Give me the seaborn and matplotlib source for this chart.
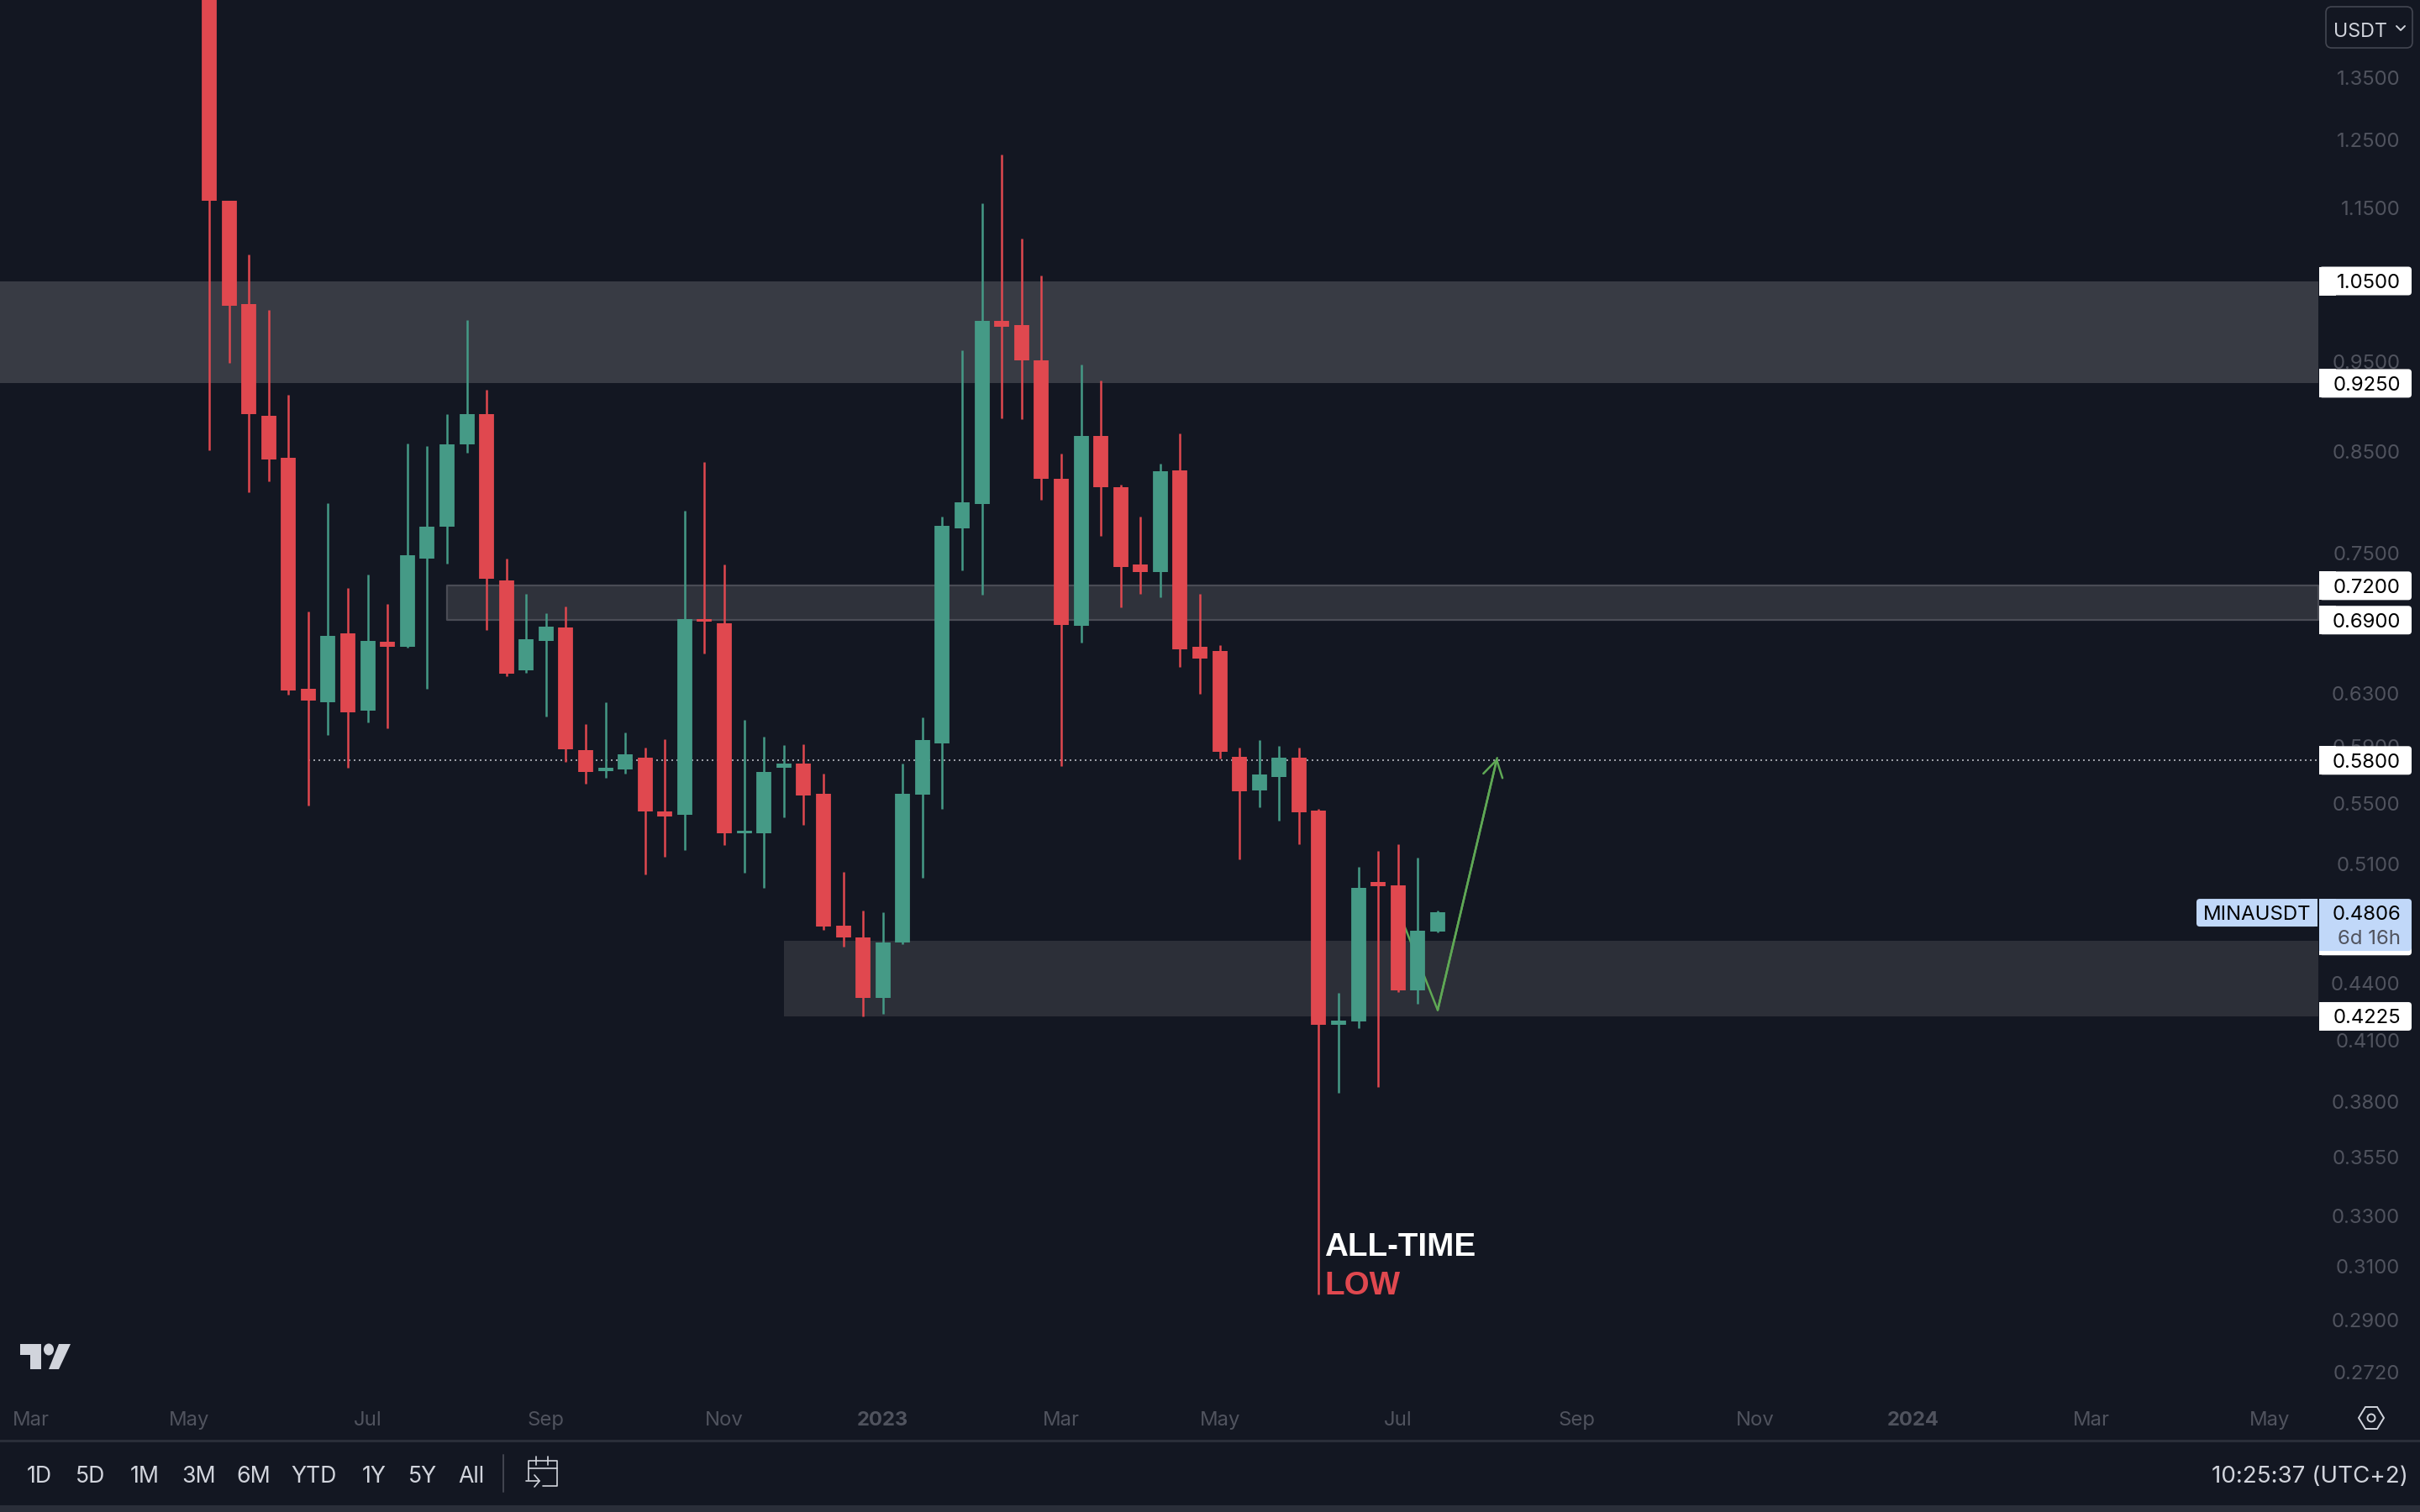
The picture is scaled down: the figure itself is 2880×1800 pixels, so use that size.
import pandas as pd
import matplotlib.pyplot as plt
from matplotlib.patches import Rectangle, FancyBboxPatch, Polygon, Ellipse, Circle
import seaborn as sns

# Weekly candles
first_week = "2022-05-09"
opens = [1.62, 1.1594, 1.0209, 0.8888, 0.8432, 0.6335, 0.6231, 0.6785, 0.6167, 0.6721,
         0.6678, 0.7445, 0.7743, 0.8577, 0.8901, 0.7250, 0.6483, 0.6726, 0.6838, 0.5877,
         0.5721, 0.5738, 0.5822, 0.5443, 0.5420, 0.6906, 0.6872, 0.5302, 0.5298, 0.5746,
         0.5780, 0.5566, 0.4726, 0.4659, 0.4324, 0.4632, 0.5560, 0.5921, 0.7729, 0.7971,
         0.9991, 0.9943, 0.9515, 0.8217, 0.6855, 0.8669, 0.8133, 0.7394, 0.7326, 0.8302,
         0.6675, 0.6641, 0.5824, 0.5589, 0.5685, 0.5820, 0.5449, 0.4183, 0.4198, 0.4989,
         0.4967, 0.4365, 0.4692]
closes = [1.1594, 1.0186, 0.8901, 0.8414, 0.6326, 0.6249, 0.6770, 0.6158, 0.6726, 0.6678,
          0.7479, 0.7743, 0.8577, 0.8907, 0.7266, 0.6459, 0.6736, 0.6848, 0.5881, 0.5717,
          0.5746, 0.5847, 0.5443, 0.5412, 0.6906, 0.6887, 0.5298, 0.5318, 0.5717, 0.5776,
          0.5553, 0.4722, 0.4659, 0.4324, 0.4628, 0.5568, 0.5950, 0.7757, 0.7982, 0.9991,
          0.9920, 0.9522, 0.8223, 0.6860, 0.8663, 0.8133, 0.7373, 0.7321, 0.8296, 0.6656,
          0.6578, 0.5862, 0.5580, 0.5698, 0.5820, 0.5441, 0.4183, 0.4205, 0.4956, 0.4964,
          0.4365, 0.4696, 0.4806]
highs = [1.75, 1.1594, 1.0852, 1.0133, 0.9116, 0.6973, 0.7974, 0.7177, 0.7303, 0.7041,
         0.8583, 0.8559, 0.8901, 1.0005, 0.9181, 0.7445, 0.7125, 0.6958, 0.7020, 0.6068,
         0.6235, 0.6005, 0.5893, 0.5956, 0.7901, 0.8390, 0.7392, 0.6100, 0.5973, 0.5914,
         0.5918, 0.5704, 0.5051, 0.4818, 0.4807, 0.5778, 0.6120, 0.7847, 0.9635, 1.1565,
         1.2285, 1.1066, 1.0566, 0.8477, 0.9466, 0.9284, 0.8163, 0.7842, 0.8375, 0.8696,
         0.7127, 0.6690, 0.5891, 0.5950, 0.5908, 0.5891, 0.5461, 0.4349, 0.5085, 0.5187,
         0.5230, 0.5141, 0.4818]
lows = [0.8511, 0.9491, 0.8087, 0.8196, 0.6294, 0.5486, 0.5987, 0.5750, 0.6077, 0.6036,
        0.6668, 0.6339, 0.7402, 0.8493, 0.6819, 0.6440, 0.6464, 0.6127, 0.5792, 0.5633,
        0.5679, 0.5708, 0.5034, 0.5150, 0.5189, 0.6624, 0.5224, 0.5045, 0.4951, 0.5404,
        0.5357, 0.4702, 0.4605, 0.4227, 0.4240, 0.4618, 0.5014, 0.5461, 0.7337, 0.7117,
        0.8859, 0.8846, 0.8011, 0.5757, 0.6709, 0.7656, 0.7012, 0.7127, 0.7101, 0.6510,
        0.6301, 0.5811, 0.5133, 0.5472, 0.5382, 0.5230, 0.2995, 0.3843, 0.4162, 0.3871,
        0.4356, 0.4293, 0.4686]

# Support / resistance zones: price range and the week they start on
zone_high = [1.05, 0.72, 0.4638]
zone_low = [0.925, 0.69, 0.4225]
zone_start = [None, "2022-08-01", "2022-11-28"]
zone_fill = ["#383b44", "#2f323b", "#2c2f38"]

level_price = 0.58
level_start = "2022-06-13"

# Projection drawn on the chart
path_dates = ["2023-07-03", "2023-07-17", "2023-08-07"]
path_prices = [0.4820, 0.4258, 0.5818]

tick_prices = [1.35, 1.25, 1.15, 0.95, 0.85, 0.75, 0.63, 0.59, 0.55, 0.51, 0.44,
               0.41, 0.38, 0.355, 0.33, 0.31, 0.29, 0.272]
tag_prices = [1.05, 0.925, 0.72, 0.69, 0.58, 0.4225]
hidden_tag = 0.4638
last_price = 0.4806

month_dates = ["2022-03-07", "2022-05-02", "2022-07-04", "2022-09-05", "2022-11-07", "2023-01-02",
               "2023-03-06", "2023-05-01", "2023-07-03", "2023-09-04", "2023-11-06", "2024-01-01",
               "2024-03-04", "2024-05-06"]
month_labels = ["Mar", "May", "Jul", "Sep", "Nov", "2023", "Mar", "May", "Jul", "Sep", "Nov", "2024", "Mar", "May"]

range_labels = ["1D", "5D", "1M", "3M", "6M", "YTD", "1Y", "5Y", "All"]
range_x = [47, 108, 172, 237, 302, 374, 445, 503, 561]

BG = "#131722"
RED = "#e0484f"
GREEN = "#459a86"
FAINT = "#50535e"
LIGHT = "#d1d4dc"

sns.set_theme(style="dark", rc={"axes.facecolor": BG, "figure.facecolor": BG, "savefig.facecolor": BG})
plt.rcParams["font.family"] = ["Inter", "DejaVu Sans"]

fig = plt.figure(figsize=(14.4, 9), dpi=200)
ax = fig.add_axes([0, 1 - 1660 / 1800, 2759 / 2880, 1660 / 1800])
ax.set_yscale("log")

weeks = pd.date_range(first_week, periods=len(opens), freq="7D")
left = weeks[0] - pd.Timedelta(days=73.9)
right = weeks[0] + pd.Timedelta(days=745.1)

candles = pd.DataFrame({"week": weeks, "open": opens, "close": closes, "high": highs, "low": lows})
candles["side"] = ["up" if c >= o else "down" for o, c in zip(opens, closes)]
colors = {"up": GREEN, "down": RED}

# zones sit behind everything
for hi, lo, start, fill in zip(zone_high, zone_low, zone_start, zone_fill):
    x0 = left if start is None else pd.Timestamp(start)
    edge = "#4a4c55" if hi == 0.72 else "none"
    ax.fill_between([x0, right], [lo, lo], [hi, hi], facecolor=fill, edgecolor=edge, linewidth=0.8, zorder=1)

ax.plot([pd.Timestamp(level_start), right], [level_price, level_price], color="#9a9ca4", lw=0.72,
        ls=(0, (1, 2)), zorder=2)

sns.lineplot(x=pd.to_datetime(path_dates), y=path_prices, color="#5fa855", lw=0.9, ax=ax, zorder=2.5,
             estimator=None, sort=False)
ax.annotate("", xy=(pd.Timestamp(path_dates[2]), path_prices[2]),
            xytext=(pd.Timestamp(path_dates[1]), path_prices[1]),
            arrowprops=dict(arrowstyle="->,head_length=0.7,head_width=0.42", color="#5fa855", lw=0.9,
                            shrinkA=0, shrinkB=0, mutation_scale=10), zorder=2.5)

# candles: wick then body, one short vertical line per week
wicks = candles.melt(id_vars=["week", "side"], value_vars=["high", "low"], value_name="price")
bodies = candles.melt(id_vars=["week", "side"], value_vars=["open", "close"], value_name="price")
sns.lineplot(data=wicks, x="week", y="price", hue="side", units="week", estimator=None, palette=colors,
             lw=0.9, solid_capstyle="butt", legend=False, ax=ax, zorder=3)
sns.lineplot(data=bodies, x="week", y="price", hue="side", units="week", estimator=None, palette=colors,
             lw=6.4, solid_capstyle="butt", legend=False, ax=ax, zorder=4)

ax.set_xlim(left, right)
ax.set_ylim(0.2646, 1.4868)
ax.set_xlabel("")
ax.set_ylabel("")
ax.grid(False)
for spine in ax.spines.values():
    spine.set_visible(False)

ax.yaxis.tick_right()
ax.set_yticks(tick_prices)
ax.set_yticklabels([f"{p:.4f}" for p in tick_prices])
ax.minorticks_off()
ax.tick_params(axis="y", length=0, pad=35, labelsize=8.6, labelcolor=FAINT)
for label in ax.get_yticklabels():
    label.set_ha("right")

ax.set_xticks(pd.to_datetime(month_dates))
ax.set_xticklabels(month_labels)
ax.tick_params(axis="x", length=0, pad=7.2, labelsize=8.6, labelcolor=FAINT)
for label in ax.get_xticklabels():
    if label.get_text().isdigit():
        label.set_fontweight("bold")

# overlay in pixel coordinates for the TradingView chrome
ui = fig.add_axes([0, 0, 1, 1], facecolor="none")
ui.set_xlim(0, 2880)
ui.set_ylim(1800, 0)
ui.axis("off")


def price_to_px(p):
    return 1800 - ax.transData.transform((0, p))[1]


def tag(x0, x1, y0, y1, color):
    ui.add_patch(FancyBboxPatch((x0 + 3, y0 + 3), x1 - x0 - 6, y1 - y0 - 6, boxstyle="round,pad=3,rounding_size=4",
                                facecolor=color, edgecolor="none", mutation_aspect=1))


def square_left(x0, y0, y1, color):
    ui.add_patch(Rectangle((x0, y0), 20, y1 - y0, facecolor=color, edgecolor="none"))


fig.canvas.draw()

yc = price_to_px(hidden_tag)
tag(2760, 2870, yc - 17, yc + 17, "white")
square_left(2760, yc - 17, yc + 17, "white")

for p in tag_prices:
    yc = price_to_px(p)
    tag(2760, 2870, yc - 17, yc + 17, "white")
    square_left(2760, yc - 17, yc + 17, "white")
    ui.text(2857, yc, f"{p:.4f}", ha="right", va="center_baseline", fontsize=8.6, color="black")

# last price tag
yc = price_to_px(last_price)
BLUE = "#c1d8f9"
tag(2614, 2758, yc - 16, yc + 17, BLUE)
ui.add_patch(Rectangle((2738, yc - 16), 20, 33, facecolor=BLUE, edgecolor="none"))
tag(2760, 2870, yc - 16, yc + 46, BLUE)
square_left(2760, yc - 16, yc + 46, BLUE)
ui.text(2686, yc, "MINAUSDT", ha="center", va="center_baseline", fontsize=8.6, color="black")
ui.text(2857, yc, f"{last_price:.4f}", ha="right", va="center_baseline", fontsize=8.6, color="black")
ui.text(2857, yc + 29, "6d 16h", ha="right", va="center_baseline", fontsize=8.6, color=FAINT)

# currency button
ui.add_patch(FancyBboxPatch((2774, 14), 91, 37, boxstyle="round,pad=6,rounding_size=7", facecolor="none",
                            edgecolor="#434651", lw=0.6))
ui.text(2777, 35, "USDT", ha="left", va="center_baseline", fontsize=8.4, color=LIGHT)
ui.plot([2852, 2857, 2862], [31, 36, 31], color=LIGHT, lw=0.7)

# annotation under the all-time low wick
ui.text(1576, 1495, "ALL-TIME", ha="left", va="baseline", fontsize=13.9, fontweight="bold",
        family="Liberation Sans", color="white")
ui.text(1576, 1541, "LOW", ha="left", va="baseline", fontsize=13.9, fontweight="bold",
        family="Liberation Sans", color=RED)

# logo
ui.add_patch(Polygon([(24, 1600), (48.5, 1600), (48.5, 1630), (36, 1630), (36, 1613), (24, 1613)],
                     facecolor=LIGHT, edgecolor="none"))
ui.add_patch(Ellipse((58, 1606.5), 12, 14, facecolor=LIGHT, edgecolor="none"))
ui.add_patch(Polygon([(70, 1600), (84, 1600), (70, 1630), (58, 1630)], facecolor=LIGHT, edgecolor="none"))

# settings icon
ui.add_patch(Polygon([(2807, 1688), (2815, 1675), (2829, 1675), (2837, 1688), (2829, 1701), (2815, 1701)],
                     facecolor="none", edgecolor=LIGHT, lw=0.7))
ui.add_patch(Circle((2822, 1688), 4.5, facecolor="none", edgecolor=LIGHT, lw=0.7))

# bottom toolbar
ui.add_patch(Rectangle((0, 1714), 2880, 2.5, facecolor="#2a2e39", edgecolor="none"))
ui.add_patch(Rectangle((0, 1792), 2880, 8, facecolor="#2a2e39", edgecolor="none"))
for name, x in zip(range_labels, range_x):
    ui.text(x, 1755, name, ha="center", va="center_baseline", fontsize=9.6, color=LIGHT)
ui.plot([598.5, 598.5], [1732, 1776], color="#434651", lw=0.7)
ui.text(2866, 1755, "10:25:37 (UTC+2)", ha="right", va="center_baseline", fontsize=10, color=LIGHT)

# go-to-date icon
ui.plot([629, 629, 663, 663, 657, 646], [1762, 1739, 1739, 1769, 1769, 1769], color=LIGHT, lw=0.6)
ui.plot([629, 663], [1748, 1748], color=LIGHT, lw=0.6)
for x in [638, 652]:
    ui.plot([x, x], [1734, 1744], color=LIGHT, lw=0.6)
ui.plot([626, 642], [1763, 1763], color=LIGHT, lw=0.6)
ui.plot([636, 642, 636], [1756, 1763, 1770], color=LIGHT, lw=0.6)

fig.savefig("out.png", dpi=200)
